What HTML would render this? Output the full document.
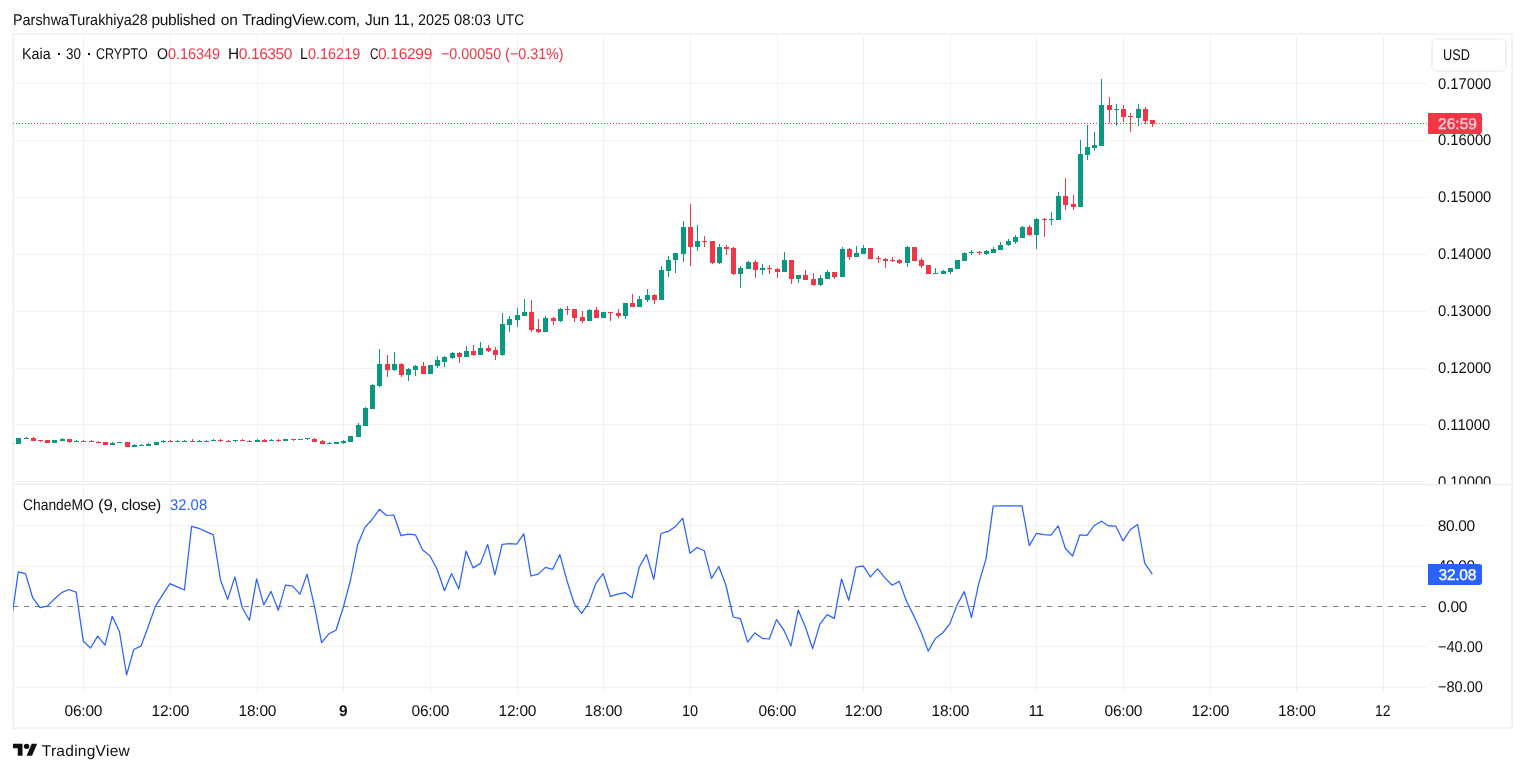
<!DOCTYPE html>
<html><head><meta charset="utf-8"><title>Kaia chart</title>
<style>
html,body{margin:0;padding:0;background:#fff;}
body{width:1525px;height:772px;position:relative;overflow:hidden;font-family:"Liberation Sans",sans-serif;}
.t{position:absolute;white-space:pre;font-family:"Liberation Sans",sans-serif;text-rendering:geometricPrecision;}
#tx{position:absolute;left:0;top:0;width:1525px;height:772px;opacity:.999;will-change:opacity;}
#frame{position:absolute;left:12px;top:33px;width:1497px;height:692px;border:2px solid #f3f3f3;box-sizing:content-box;}
svg{position:absolute;left:0;top:0;}
.usd{position:absolute;left:1431.4px;top:38px;width:75.8px;height:33.8px;border:2px solid #f3f3f3;border-radius:6px;box-sizing:border-box;background:#fff;}
.lab{position:absolute;border-radius:0 2.4px 2.4px 0;}
</style></head><body>
<div id="frame"></div>
<svg width="1525" height="772" viewBox="0 0 1525 772" shape-rendering="crispEdges">
<defs><clipPath id="cp"><rect x="13" y="485" width="1414" height="203"/></clipPath></defs>
<rect x="83" y="35" width="1" height="449" fill="#000" fill-opacity=".052"/>
<rect x="83" y="485" width="1" height="208" fill="#000" fill-opacity=".052"/>
<rect x="170" y="35" width="1" height="449" fill="#000" fill-opacity=".052"/>
<rect x="170" y="485" width="1" height="208" fill="#000" fill-opacity=".052"/>
<rect x="257" y="35" width="1" height="449" fill="#000" fill-opacity=".052"/>
<rect x="257" y="485" width="1" height="208" fill="#000" fill-opacity=".052"/>
<rect x="343" y="35" width="1" height="449" fill="#000" fill-opacity=".052"/>
<rect x="343" y="485" width="1" height="208" fill="#000" fill-opacity=".052"/>
<rect x="430" y="35" width="1" height="449" fill="#000" fill-opacity=".052"/>
<rect x="430" y="485" width="1" height="208" fill="#000" fill-opacity=".052"/>
<rect x="517" y="35" width="1" height="449" fill="#000" fill-opacity=".052"/>
<rect x="517" y="485" width="1" height="208" fill="#000" fill-opacity=".052"/>
<rect x="603" y="35" width="1" height="449" fill="#000" fill-opacity=".052"/>
<rect x="603" y="485" width="1" height="208" fill="#000" fill-opacity=".052"/>
<rect x="690" y="35" width="1" height="449" fill="#000" fill-opacity=".052"/>
<rect x="690" y="485" width="1" height="208" fill="#000" fill-opacity=".052"/>
<rect x="777" y="35" width="1" height="449" fill="#000" fill-opacity=".052"/>
<rect x="777" y="485" width="1" height="208" fill="#000" fill-opacity=".052"/>
<rect x="863" y="35" width="1" height="449" fill="#000" fill-opacity=".052"/>
<rect x="863" y="485" width="1" height="208" fill="#000" fill-opacity=".052"/>
<rect x="950" y="35" width="1" height="449" fill="#000" fill-opacity=".052"/>
<rect x="950" y="485" width="1" height="208" fill="#000" fill-opacity=".052"/>
<rect x="1036" y="35" width="1" height="449" fill="#000" fill-opacity=".052"/>
<rect x="1036" y="485" width="1" height="208" fill="#000" fill-opacity=".052"/>
<rect x="1123" y="35" width="1" height="449" fill="#000" fill-opacity=".052"/>
<rect x="1123" y="485" width="1" height="208" fill="#000" fill-opacity=".052"/>
<rect x="1210" y="35" width="1" height="449" fill="#000" fill-opacity=".052"/>
<rect x="1210" y="485" width="1" height="208" fill="#000" fill-opacity=".052"/>
<rect x="1296" y="35" width="1" height="449" fill="#000" fill-opacity=".052"/>
<rect x="1296" y="485" width="1" height="208" fill="#000" fill-opacity=".052"/>
<rect x="1383" y="35" width="1" height="449" fill="#000" fill-opacity=".052"/>
<rect x="1383" y="485" width="1" height="208" fill="#000" fill-opacity=".052"/>
<rect x="14" y="83" width="1413" height="1" fill="#000" fill-opacity=".052"/>
<rect x="14" y="140" width="1413" height="1" fill="#000" fill-opacity=".052"/>
<rect x="14" y="197" width="1413" height="1" fill="#000" fill-opacity=".052"/>
<rect x="14" y="254" width="1413" height="1" fill="#000" fill-opacity=".052"/>
<rect x="14" y="311" width="1413" height="1" fill="#000" fill-opacity=".052"/>
<rect x="14" y="368" width="1413" height="1" fill="#000" fill-opacity=".052"/>
<rect x="14" y="424" width="1413" height="1" fill="#000" fill-opacity=".052"/>
<rect x="14" y="481" width="1413" height="1" fill="#000" fill-opacity=".052"/>
<rect x="14" y="525" width="1413" height="1" fill="#000" fill-opacity=".052"/>
<rect x="14" y="566" width="1413" height="1" fill="#000" fill-opacity=".052"/>
<rect x="14" y="606" width="1413" height="1" fill="#000" fill-opacity=".052"/>
<rect x="14" y="646" width="1413" height="1" fill="#000" fill-opacity=".052"/>
<rect x="14" y="687" width="1413" height="1" fill="#000" fill-opacity=".052"/>
<rect x="14" y="484" width="1497" height="1" fill="#e9e9e9"/>
<line x1="13" y1="606.5" x2="1427" y2="606.5" stroke="#787b86" stroke-width="1" stroke-dasharray="5 6" stroke-dashoffset="0" shape-rendering="crispEdges"/>
<line x1="13" y1="123.5" x2="1427" y2="123.5" stroke="#f23645" stroke-width="1" stroke-dasharray="1 2" stroke-dashoffset="0" shape-rendering="crispEdges"/>
<rect x="16" y="438" width="5" height="6" fill="#089981"/>
<rect x="26" y="437" width="1" height="2" fill="#089981"/>
<rect x="24" y="438" width="5" height="1" fill="#089981"/>
<rect x="33" y="437" width="1" height="4" fill="#f23645"/>
<rect x="31" y="438" width="5" height="3" fill="#f23645"/>
<rect x="40" y="440" width="1" height="2" fill="#f23645"/>
<rect x="38" y="440" width="5" height="1" fill="#f23645"/>
<rect x="45" y="440" width="5" height="3" fill="#f23645"/>
<rect x="52" y="440" width="5" height="3" fill="#089981"/>
<rect x="62" y="438" width="1" height="3" fill="#089981"/>
<rect x="60" y="439" width="5" height="2" fill="#089981"/>
<rect x="69" y="439" width="1" height="4" fill="#f23645"/>
<rect x="67" y="439" width="5" height="3" fill="#f23645"/>
<rect x="76" y="440" width="1" height="2" fill="#089981"/>
<rect x="74" y="441" width="5" height="1" fill="#089981"/>
<rect x="83" y="440" width="1" height="2" fill="#f23645"/>
<rect x="81" y="441" width="5" height="1" fill="#f23645"/>
<rect x="91" y="440" width="1" height="2" fill="#f23645"/>
<rect x="89" y="441" width="5" height="1" fill="#f23645"/>
<rect x="98" y="441" width="1" height="2" fill="#f23645"/>
<rect x="96" y="442" width="5" height="1" fill="#f23645"/>
<rect x="103" y="442" width="5" height="3" fill="#f23645"/>
<rect x="112" y="442" width="1" height="3" fill="#089981"/>
<rect x="110" y="443" width="5" height="2" fill="#089981"/>
<rect x="117" y="442" width="5" height="1" fill="#089981"/>
<rect x="125" y="442" width="5" height="5" fill="#f23645"/>
<rect x="134" y="444" width="1" height="3" fill="#089981"/>
<rect x="132" y="445" width="5" height="2" fill="#089981"/>
<rect x="141" y="444" width="1" height="2" fill="#089981"/>
<rect x="139" y="445" width="5" height="1" fill="#089981"/>
<rect x="148" y="443" width="1" height="3" fill="#089981"/>
<rect x="146" y="444" width="5" height="2" fill="#089981"/>
<rect x="154" y="442" width="5" height="3" fill="#089981"/>
<rect x="163" y="440" width="1" height="3" fill="#089981"/>
<rect x="161" y="441" width="5" height="1" fill="#089981"/>
<rect x="170" y="440" width="1" height="2" fill="#f23645"/>
<rect x="168" y="441" width="5" height="1" fill="#f23645"/>
<rect x="177" y="440" width="1" height="2" fill="#089981"/>
<rect x="175" y="441" width="5" height="1" fill="#089981"/>
<rect x="184" y="440" width="1" height="2" fill="#089981"/>
<rect x="182" y="441" width="5" height="1" fill="#089981"/>
<rect x="192" y="439" width="1" height="3" fill="#f23645"/>
<rect x="190" y="441" width="5" height="1" fill="#f23645"/>
<rect x="199" y="440" width="1" height="2" fill="#089981"/>
<rect x="197" y="441" width="5" height="1" fill="#089981"/>
<rect x="206" y="440" width="1" height="2" fill="#089981"/>
<rect x="204" y="441" width="5" height="1" fill="#089981"/>
<rect x="213" y="439" width="1" height="2" fill="#089981"/>
<rect x="211" y="440" width="5" height="1" fill="#089981"/>
<rect x="220" y="439" width="1" height="3" fill="#f23645"/>
<rect x="218" y="440" width="5" height="1" fill="#f23645"/>
<rect x="228" y="440" width="1" height="2" fill="#f23645"/>
<rect x="226" y="441" width="5" height="1" fill="#f23645"/>
<rect x="235" y="440" width="1" height="2" fill="#089981"/>
<rect x="233" y="440" width="5" height="1" fill="#089981"/>
<rect x="242" y="439" width="1" height="2" fill="#f23645"/>
<rect x="240" y="440" width="5" height="1" fill="#f23645"/>
<rect x="249" y="440" width="1" height="2" fill="#f23645"/>
<rect x="247" y="441" width="5" height="1" fill="#f23645"/>
<rect x="257" y="439" width="1" height="3" fill="#089981"/>
<rect x="255" y="440" width="5" height="2" fill="#089981"/>
<rect x="264" y="439" width="1" height="3" fill="#f23645"/>
<rect x="262" y="440" width="5" height="2" fill="#f23645"/>
<rect x="271" y="439" width="1" height="2" fill="#089981"/>
<rect x="269" y="440" width="5" height="1" fill="#089981"/>
<rect x="278" y="439" width="1" height="3" fill="#f23645"/>
<rect x="276" y="440" width="5" height="1" fill="#f23645"/>
<rect x="283" y="439" width="5" height="2" fill="#089981"/>
<rect x="293" y="439" width="1" height="2" fill="#f23645"/>
<rect x="291" y="439" width="5" height="1" fill="#f23645"/>
<rect x="298" y="439" width="5" height="1" fill="#089981"/>
<rect x="307" y="438" width="1" height="2" fill="#089981"/>
<rect x="305" y="438" width="5" height="1" fill="#089981"/>
<rect x="314" y="438" width="1" height="4" fill="#f23645"/>
<rect x="312" y="439" width="5" height="3" fill="#f23645"/>
<rect x="322" y="440" width="1" height="4" fill="#f23645"/>
<rect x="320" y="441" width="5" height="3" fill="#f23645"/>
<rect x="329" y="442" width="1" height="2" fill="#089981"/>
<rect x="327" y="443" width="5" height="1" fill="#089981"/>
<rect x="334" y="442" width="5" height="2" fill="#089981"/>
<rect x="343" y="440" width="1" height="4" fill="#089981"/>
<rect x="341" y="441" width="5" height="2" fill="#089981"/>
<rect x="348" y="436" width="5" height="6" fill="#089981"/>
<rect x="358" y="423" width="1" height="14" fill="#089981"/>
<rect x="356" y="425" width="5" height="12" fill="#089981"/>
<rect x="365" y="407" width="1" height="19" fill="#089981"/>
<rect x="363" y="408" width="5" height="18" fill="#089981"/>
<rect x="372" y="384" width="1" height="25" fill="#089981"/>
<rect x="370" y="385" width="5" height="24" fill="#089981"/>
<rect x="379" y="349" width="1" height="38" fill="#089981"/>
<rect x="377" y="364" width="5" height="22" fill="#089981"/>
<rect x="387" y="355" width="1" height="22" fill="#f23645"/>
<rect x="385" y="364" width="5" height="6" fill="#f23645"/>
<rect x="394" y="352" width="1" height="19" fill="#089981"/>
<rect x="392" y="364" width="5" height="6" fill="#089981"/>
<rect x="401" y="363" width="1" height="14" fill="#f23645"/>
<rect x="399" y="364" width="5" height="11" fill="#f23645"/>
<rect x="408" y="368" width="1" height="13" fill="#089981"/>
<rect x="406" y="369" width="5" height="6" fill="#089981"/>
<rect x="415" y="365" width="1" height="11" fill="#089981"/>
<rect x="413" y="366" width="5" height="4" fill="#089981"/>
<rect x="423" y="362" width="1" height="12" fill="#f23645"/>
<rect x="421" y="366" width="5" height="8" fill="#f23645"/>
<rect x="428" y="365" width="5" height="9" fill="#089981"/>
<rect x="437" y="356" width="1" height="12" fill="#089981"/>
<rect x="435" y="360" width="5" height="6" fill="#089981"/>
<rect x="444" y="356" width="1" height="11" fill="#089981"/>
<rect x="442" y="357" width="5" height="5" fill="#089981"/>
<rect x="452" y="352" width="1" height="7" fill="#089981"/>
<rect x="450" y="353" width="5" height="5" fill="#089981"/>
<rect x="459" y="352" width="1" height="11" fill="#f23645"/>
<rect x="457" y="353" width="5" height="4" fill="#f23645"/>
<rect x="466" y="346" width="1" height="11" fill="#089981"/>
<rect x="464" y="351" width="5" height="6" fill="#089981"/>
<rect x="473" y="345" width="1" height="11" fill="#f23645"/>
<rect x="471" y="351" width="5" height="4" fill="#f23645"/>
<rect x="480" y="342" width="1" height="13" fill="#089981"/>
<rect x="478" y="348" width="5" height="7" fill="#089981"/>
<rect x="488" y="345" width="1" height="7" fill="#f23645"/>
<rect x="486" y="348" width="5" height="3" fill="#f23645"/>
<rect x="495" y="347" width="1" height="13" fill="#f23645"/>
<rect x="493" y="350" width="5" height="5" fill="#f23645"/>
<rect x="502" y="313" width="1" height="43" fill="#089981"/>
<rect x="500" y="324" width="5" height="31" fill="#089981"/>
<rect x="509" y="316" width="1" height="16" fill="#089981"/>
<rect x="507" y="319" width="5" height="6" fill="#089981"/>
<rect x="517" y="308" width="1" height="19" fill="#089981"/>
<rect x="515" y="315" width="5" height="5" fill="#089981"/>
<rect x="524" y="299" width="1" height="17" fill="#089981"/>
<rect x="522" y="312" width="5" height="4" fill="#089981"/>
<rect x="531" y="300" width="1" height="32" fill="#f23645"/>
<rect x="529" y="312" width="5" height="18" fill="#f23645"/>
<rect x="538" y="319" width="1" height="14" fill="#f23645"/>
<rect x="536" y="329" width="5" height="3" fill="#f23645"/>
<rect x="545" y="316" width="1" height="16" fill="#089981"/>
<rect x="543" y="318" width="5" height="14" fill="#089981"/>
<rect x="553" y="317" width="1" height="8" fill="#f23645"/>
<rect x="551" y="318" width="5" height="3" fill="#f23645"/>
<rect x="560" y="308" width="1" height="14" fill="#089981"/>
<rect x="558" y="309" width="5" height="12" fill="#089981"/>
<rect x="567" y="306" width="1" height="9" fill="#f23645"/>
<rect x="565" y="309" width="5" height="1" fill="#f23645"/>
<rect x="574" y="309" width="1" height="13" fill="#f23645"/>
<rect x="572" y="309" width="5" height="9" fill="#f23645"/>
<rect x="582" y="311" width="1" height="12" fill="#f23645"/>
<rect x="580" y="317" width="5" height="4" fill="#f23645"/>
<rect x="589" y="309" width="1" height="12" fill="#089981"/>
<rect x="587" y="310" width="5" height="11" fill="#089981"/>
<rect x="596" y="307" width="1" height="11" fill="#f23645"/>
<rect x="594" y="310" width="5" height="8" fill="#f23645"/>
<rect x="601" y="312" width="5" height="6" fill="#089981"/>
<rect x="610" y="312" width="1" height="9" fill="#f23645"/>
<rect x="608" y="312" width="5" height="1" fill="#f23645"/>
<rect x="618" y="309" width="1" height="9" fill="#f23645"/>
<rect x="616" y="313" width="5" height="3" fill="#f23645"/>
<rect x="625" y="303" width="1" height="16" fill="#089981"/>
<rect x="623" y="303" width="5" height="13" fill="#089981"/>
<rect x="632" y="294" width="1" height="13" fill="#f23645"/>
<rect x="630" y="303" width="5" height="4" fill="#f23645"/>
<rect x="639" y="296" width="1" height="11" fill="#089981"/>
<rect x="637" y="299" width="5" height="8" fill="#089981"/>
<rect x="647" y="289" width="1" height="13" fill="#089981"/>
<rect x="645" y="295" width="5" height="5" fill="#089981"/>
<rect x="654" y="294" width="1" height="10" fill="#f23645"/>
<rect x="652" y="295" width="5" height="5" fill="#f23645"/>
<rect x="661" y="266" width="1" height="34" fill="#089981"/>
<rect x="659" y="270" width="5" height="30" fill="#089981"/>
<rect x="668" y="256" width="1" height="21" fill="#089981"/>
<rect x="666" y="260" width="5" height="11" fill="#089981"/>
<rect x="675" y="253" width="1" height="20" fill="#089981"/>
<rect x="673" y="253" width="5" height="7" fill="#089981"/>
<rect x="683" y="221" width="1" height="41" fill="#089981"/>
<rect x="681" y="227" width="5" height="27" fill="#089981"/>
<rect x="690" y="204" width="1" height="62" fill="#f23645"/>
<rect x="688" y="227" width="5" height="20" fill="#f23645"/>
<rect x="697" y="225" width="1" height="26" fill="#089981"/>
<rect x="695" y="241" width="5" height="6" fill="#089981"/>
<rect x="704" y="236" width="1" height="11" fill="#f23645"/>
<rect x="702" y="241" width="5" height="1" fill="#f23645"/>
<rect x="712" y="241" width="1" height="23" fill="#f23645"/>
<rect x="710" y="241" width="5" height="22" fill="#f23645"/>
<rect x="719" y="244" width="1" height="20" fill="#089981"/>
<rect x="717" y="247" width="5" height="16" fill="#089981"/>
<rect x="726" y="245" width="1" height="10" fill="#f23645"/>
<rect x="724" y="247" width="5" height="2" fill="#f23645"/>
<rect x="733" y="247" width="1" height="28" fill="#f23645"/>
<rect x="731" y="248" width="5" height="26" fill="#f23645"/>
<rect x="740" y="266" width="1" height="22" fill="#089981"/>
<rect x="738" y="268" width="5" height="6" fill="#089981"/>
<rect x="748" y="261" width="1" height="8" fill="#089981"/>
<rect x="746" y="262" width="5" height="7" fill="#089981"/>
<rect x="755" y="260" width="1" height="18" fill="#f23645"/>
<rect x="753" y="262" width="5" height="8" fill="#f23645"/>
<rect x="762" y="264" width="1" height="11" fill="#089981"/>
<rect x="760" y="268" width="5" height="2" fill="#089981"/>
<rect x="769" y="265" width="1" height="9" fill="#f23645"/>
<rect x="767" y="268" width="5" height="1" fill="#f23645"/>
<rect x="777" y="268" width="1" height="10" fill="#f23645"/>
<rect x="775" y="269" width="5" height="3" fill="#f23645"/>
<rect x="784" y="252" width="1" height="20" fill="#089981"/>
<rect x="782" y="260" width="5" height="12" fill="#089981"/>
<rect x="791" y="260" width="1" height="24" fill="#f23645"/>
<rect x="789" y="260" width="5" height="19" fill="#f23645"/>
<rect x="798" y="275" width="1" height="8" fill="#089981"/>
<rect x="796" y="275" width="5" height="4" fill="#089981"/>
<rect x="805" y="270" width="1" height="10" fill="#f23645"/>
<rect x="803" y="275" width="5" height="5" fill="#f23645"/>
<rect x="813" y="273" width="1" height="13" fill="#f23645"/>
<rect x="811" y="279" width="5" height="6" fill="#f23645"/>
<rect x="820" y="275" width="1" height="11" fill="#089981"/>
<rect x="818" y="278" width="5" height="7" fill="#089981"/>
<rect x="827" y="270" width="1" height="9" fill="#089981"/>
<rect x="825" y="272" width="5" height="7" fill="#089981"/>
<rect x="834" y="272" width="1" height="7" fill="#f23645"/>
<rect x="832" y="272" width="5" height="5" fill="#f23645"/>
<rect x="842" y="247" width="1" height="30" fill="#089981"/>
<rect x="840" y="249" width="5" height="28" fill="#089981"/>
<rect x="849" y="248" width="1" height="12" fill="#f23645"/>
<rect x="847" y="249" width="5" height="8" fill="#f23645"/>
<rect x="856" y="246" width="1" height="11" fill="#089981"/>
<rect x="854" y="253" width="5" height="4" fill="#089981"/>
<rect x="863" y="245" width="1" height="9" fill="#089981"/>
<rect x="861" y="248" width="5" height="6" fill="#089981"/>
<rect x="868" y="248" width="5" height="11" fill="#f23645"/>
<rect x="878" y="256" width="1" height="7" fill="#f23645"/>
<rect x="876" y="258" width="5" height="1" fill="#f23645"/>
<rect x="885" y="258" width="1" height="10" fill="#f23645"/>
<rect x="883" y="259" width="5" height="2" fill="#f23645"/>
<rect x="892" y="257" width="1" height="5" fill="#f23645"/>
<rect x="890" y="260" width="5" height="1" fill="#f23645"/>
<rect x="899" y="259" width="1" height="5" fill="#f23645"/>
<rect x="897" y="260" width="5" height="3" fill="#f23645"/>
<rect x="907" y="246" width="1" height="21" fill="#089981"/>
<rect x="905" y="247" width="5" height="16" fill="#089981"/>
<rect x="912" y="247" width="5" height="14" fill="#f23645"/>
<rect x="921" y="258" width="1" height="10" fill="#f23645"/>
<rect x="919" y="260" width="5" height="6" fill="#f23645"/>
<rect x="926" y="265" width="5" height="9" fill="#f23645"/>
<rect x="935" y="268" width="1" height="6" fill="#089981"/>
<rect x="933" y="273" width="5" height="1" fill="#089981"/>
<rect x="943" y="270" width="1" height="4" fill="#089981"/>
<rect x="941" y="271" width="5" height="3" fill="#089981"/>
<rect x="950" y="268" width="1" height="6" fill="#089981"/>
<rect x="948" y="268" width="5" height="4" fill="#089981"/>
<rect x="955" y="260" width="5" height="9" fill="#089981"/>
<rect x="964" y="252" width="1" height="9" fill="#089981"/>
<rect x="962" y="253" width="5" height="8" fill="#089981"/>
<rect x="971" y="250" width="1" height="5" fill="#089981"/>
<rect x="969" y="252" width="5" height="1" fill="#089981"/>
<rect x="979" y="251" width="1" height="4" fill="#f23645"/>
<rect x="977" y="252" width="5" height="1" fill="#f23645"/>
<rect x="986" y="250" width="1" height="5" fill="#089981"/>
<rect x="984" y="251" width="5" height="3" fill="#089981"/>
<rect x="993" y="247" width="1" height="6" fill="#089981"/>
<rect x="991" y="249" width="5" height="4" fill="#089981"/>
<rect x="1000" y="242" width="1" height="8" fill="#089981"/>
<rect x="998" y="245" width="5" height="5" fill="#089981"/>
<rect x="1008" y="239" width="1" height="7" fill="#089981"/>
<rect x="1006" y="241" width="5" height="4" fill="#089981"/>
<rect x="1015" y="235" width="1" height="9" fill="#089981"/>
<rect x="1013" y="237" width="5" height="5" fill="#089981"/>
<rect x="1022" y="226" width="1" height="12" fill="#089981"/>
<rect x="1020" y="227" width="5" height="11" fill="#089981"/>
<rect x="1029" y="225" width="1" height="11" fill="#f23645"/>
<rect x="1027" y="227" width="5" height="8" fill="#f23645"/>
<rect x="1036" y="218" width="1" height="31" fill="#089981"/>
<rect x="1034" y="219" width="5" height="16" fill="#089981"/>
<rect x="1044" y="218" width="1" height="19" fill="#f23645"/>
<rect x="1042" y="219" width="5" height="1" fill="#f23645"/>
<rect x="1051" y="212" width="1" height="13" fill="#089981"/>
<rect x="1049" y="219" width="5" height="1" fill="#089981"/>
<rect x="1058" y="192" width="1" height="28" fill="#089981"/>
<rect x="1056" y="196" width="5" height="24" fill="#089981"/>
<rect x="1065" y="178" width="1" height="32" fill="#f23645"/>
<rect x="1063" y="196" width="5" height="9" fill="#f23645"/>
<rect x="1073" y="195" width="1" height="15" fill="#f23645"/>
<rect x="1071" y="204" width="5" height="3" fill="#f23645"/>
<rect x="1080" y="140" width="1" height="67" fill="#089981"/>
<rect x="1078" y="154" width="5" height="53" fill="#089981"/>
<rect x="1087" y="125" width="1" height="35" fill="#089981"/>
<rect x="1085" y="147" width="5" height="8" fill="#089981"/>
<rect x="1094" y="132" width="1" height="19" fill="#089981"/>
<rect x="1092" y="145" width="5" height="3" fill="#089981"/>
<rect x="1101" y="79" width="1" height="67" fill="#089981"/>
<rect x="1099" y="105" width="5" height="41" fill="#089981"/>
<rect x="1109" y="97" width="1" height="26" fill="#f23645"/>
<rect x="1107" y="105" width="5" height="5" fill="#f23645"/>
<rect x="1116" y="104" width="1" height="22" fill="#089981"/>
<rect x="1114" y="109" width="5" height="1" fill="#089981"/>
<rect x="1123" y="105" width="1" height="17" fill="#f23645"/>
<rect x="1121" y="109" width="5" height="8" fill="#f23645"/>
<rect x="1130" y="113" width="1" height="19" fill="#f23645"/>
<rect x="1128" y="116" width="5" height="1" fill="#f23645"/>
<rect x="1138" y="104" width="1" height="22" fill="#089981"/>
<rect x="1136" y="109" width="5" height="9" fill="#089981"/>
<rect x="1145" y="107" width="1" height="17" fill="#f23645"/>
<rect x="1143" y="109" width="5" height="12" fill="#f23645"/>
<rect x="1152" y="120" width="1" height="7" fill="#f23645"/>
<rect x="1150" y="120" width="5" height="4" fill="#f23645"/>
<rect x="13.15" y="443" width="1" height="1.1" fill="#089981" fill-opacity=".75" shape-rendering="geometricPrecision"/>
<path d="M11.1 622.0 L18.3 571.9 L25.5 573.6 L32.7 597.8 L40.0 607.7 L47.2 606.1 L54.4 599.0 L61.6 592.6 L68.8 589.5 L76.1 592.1 L83.3 641.2 L90.5 648.0 L97.7 636.2 L105.0 645.2 L112.2 616.3 L119.4 631.5 L126.6 674.9 L133.8 649.5 L141.1 645.9 L148.3 626.2 L155.5 606.1 L162.7 594.7 L169.9 583.6 L177.2 586.9 L184.4 590.0 L191.6 526.4 L198.8 528.3 L206.1 531.6 L213.3 534.9 L220.5 580.0 L227.7 599.4 L234.9 576.9 L242.2 607.5 L249.4 620.3 L256.6 578.8 L263.8 604.9 L271.0 591.4 L278.3 610.4 L285.5 585.2 L292.7 586.2 L299.9 594.2 L307.1 574.1 L314.4 606.1 L321.6 642.6 L328.8 633.8 L336.0 630.3 L343.3 607.3 L350.5 580.0 L357.7 544.4 L364.9 527.4 L372.1 519.5 L379.4 509.3 L386.6 515.5 L393.8 515.0 L401.0 535.7 L408.2 534.2 L415.5 534.9 L422.7 550.1 L429.9 555.8 L437.1 569.3 L444.4 590.7 L451.6 573.6 L458.8 589.0 L466.0 551.1 L473.2 567.9 L480.5 563.4 L487.7 544.4 L494.9 574.8 L502.1 544.4 L509.3 543.7 L516.6 544.2 L523.8 533.8 L531.0 576.0 L538.2 574.1 L545.4 567.4 L552.7 569.3 L559.9 554.6 L567.1 581.2 L574.3 603.7 L581.6 613.4 L588.8 603.0 L596.0 583.1 L603.2 573.6 L610.4 596.4 L617.7 594.2 L624.9 592.6 L632.1 597.8 L639.3 567.0 L646.5 554.4 L653.8 579.5 L661.0 533.5 L668.2 531.4 L675.4 526.6 L682.7 518.1 L689.9 553.2 L697.1 547.5 L704.3 550.8 L711.5 578.3 L718.8 566.5 L726.0 585.5 L733.2 617.0 L740.4 618.7 L747.6 642.1 L754.9 632.9 L762.1 638.3 L769.3 639.0 L776.5 619.6 L783.7 629.8 L791.0 645.9 L798.2 610.1 L805.4 627.0 L812.6 648.5 L819.9 624.1 L827.1 614.6 L834.3 618.4 L841.5 578.8 L848.7 600.4 L856.0 567.2 L863.2 565.8 L870.4 576.9 L877.6 568.9 L884.8 577.6 L892.1 585.2 L899.3 581.4 L906.5 601.3 L913.7 615.6 L920.9 631.5 L928.2 651.1 L935.4 638.5 L942.6 633.0 L949.8 623.9 L957.1 604.9 L964.3 591.6 L971.5 617.7 L978.7 583.6 L985.9 559.4 L993.2 506.0 L1000.4 505.8 L1007.6 505.8 L1014.8 505.8 L1022.0 505.8 L1029.3 545.6 L1036.5 533.3 L1043.7 534.7 L1050.9 535.2 L1058.2 525.9 L1065.4 548.5 L1072.6 556.0 L1079.8 534.9 L1087.0 535.4 L1094.3 525.5 L1101.5 521.2 L1108.7 525.9 L1115.9 526.2 L1123.1 540.9 L1130.4 529.5 L1137.6 524.5 L1144.8 563.4 L1152.0 573.6" fill="none" stroke="#2962ff" stroke-width="1.25" stroke-linejoin="round" stroke-linecap="round" shape-rendering="geometricPrecision" clip-path="url(#cp)"/>
</svg>
<div class="usd"></div>
<div id="tx">
<span class="t" style="left:13.20px;top:12.88px;font-size:15.5px;line-height:15.5px;color:#0f0f0f;transform:scaleX(0.9294);transform-origin:0 0;">ParshwaTurakhiya28</span>
<span class="t" style="left:151.38px;top:12.88px;font-size:15.5px;line-height:15.5px;color:#0f0f0f;letter-spacing:-0.272px;">published</span>
<span class="t" style="left:220.87px;top:12.88px;font-size:15.5px;line-height:15.5px;color:#0f0f0f;letter-spacing:-0.290px;">on</span>
<span class="t" style="left:242.18px;top:12.88px;font-size:15.5px;line-height:15.5px;color:#0f0f0f;letter-spacing:-0.292px;">TradingView.com,</span>
<span class="t" style="left:365.12px;top:12.88px;font-size:15.5px;line-height:15.5px;color:#0f0f0f;letter-spacing:-0.410px;">Jun</span>
<span class="t" style="left:393.80px;top:12.88px;font-size:15.5px;line-height:15.5px;color:#0f0f0f;letter-spacing:0.050px;">11,</span>
<span class="t" style="left:417.73px;top:12.88px;font-size:15.5px;line-height:15.5px;color:#0f0f0f;transform:scaleX(0.9263);transform-origin:0 0;">2025</span>
<span class="t" style="left:454.40px;top:12.88px;font-size:15.5px;line-height:15.5px;color:#0f0f0f;transform:scaleX(0.9567);transform-origin:0 0;">08:03</span>
<span class="t" style="left:495.57px;top:12.88px;font-size:15.5px;line-height:15.5px;color:#0f0f0f;transform:scaleX(0.8803);transform-origin:0 0;">UTC</span>
<span class="t" style="left:22.41px;top:46.88px;font-size:15.5px;line-height:15.5px;color:#0f0f0f;transform:scaleX(0.9209);transform-origin:0 0;">Kaia</span>
<span class="t" style="left:66.41px;top:46.88px;font-size:15.5px;line-height:15.5px;color:#0f0f0f;transform:scaleX(0.8666);transform-origin:0 0;">30</span>
<span class="t" style="left:96.02px;top:46.88px;font-size:15.5px;line-height:15.5px;color:#0f0f0f;transform:scaleX(0.8059);transform-origin:0 0;">CRYPTO</span>
<span class="t" style="left:157.07px;top:46.88px;font-size:15.5px;line-height:15.5px;color:#0f0f0f;transform:scaleX(0.9138);transform-origin:0 0;">O</span>
<span class="t" style="left:168.03px;top:46.88px;font-size:15.5px;line-height:15.5px;color:#f23645;transform:scaleX(0.9307);transform-origin:0 0;">0.16349</span>
<span class="t" style="left:228.09px;top:46.88px;font-size:15.5px;line-height:15.5px;color:#0f0f0f;transform:scaleX(0.9955);transform-origin:0 0;">H</span>
<span class="t" style="left:238.80px;top:46.88px;font-size:15.5px;line-height:15.5px;color:#f23645;letter-spacing:-0.401px;">0.16350</span>
<span class="t" style="left:299.91px;top:46.88px;font-size:15.5px;line-height:15.5px;color:#0f0f0f;transform:scaleX(0.9131);transform-origin:0 0;">L</span>
<span class="t" style="left:308.24px;top:46.88px;font-size:15.5px;line-height:15.5px;color:#f23645;transform:scaleX(0.9319);transform-origin:0 0;">0.16219</span>
<span class="t" style="left:370.25px;top:46.88px;font-size:15.5px;line-height:15.5px;color:#0f0f0f;transform:scaleX(0.7496);transform-origin:0 0;">C</span>
<span class="t" style="left:377.95px;top:46.88px;font-size:15.5px;line-height:15.5px;color:#f23645;letter-spacing:-0.283px;">0.16299</span>
<span class="t" style="left:440.64px;top:46.88px;font-size:15.5px;line-height:15.5px;color:#f23645;transform:scaleX(0.9238);transform-origin:0 0;">−0.00050 (−0.31%)</span>
<span class="t" style="left:1442.57px;top:47.88px;font-size:15.5px;line-height:15.5px;color:#0f0f0f;transform:scaleX(0.8209);transform-origin:0 0;">USD</span>
<span class="t" style="left:22.82px;top:497.88px;font-size:15.5px;line-height:15.5px;color:#0f0f0f;transform:scaleX(0.8930);transform-origin:0 0;">ChandeMO</span>
<span class="t" style="left:97.80px;top:497.88px;font-size:15.5px;line-height:15.5px;color:#0f0f0f;transform:scaleX(1.0819);transform-origin:0 0;">(9,</span>
<span class="t" style="left:121.32px;top:497.88px;font-size:15.5px;line-height:15.5px;color:#0f0f0f;letter-spacing:-0.289px;">close)</span>
<span class="t" style="left:170.11px;top:497.88px;font-size:15.5px;line-height:15.5px;color:#2962ff;transform:scaleX(0.9572);transform-origin:0 0;">32.08</span>
<span class="t" style="left:41.78px;top:743.78px;font-size:15.5px;line-height:15.5px;color:#0f0f0f;letter-spacing:0.268px;">TradingView</span>
<span class="t" style="left:1437.57px;top:76.98px;font-size:15.5px;line-height:15.5px;color:#0f0f0f;transform:scaleX(0.9507);transform-origin:0 0;">0.17000</span>
<span class="t" style="left:1437.57px;top:132.98px;font-size:15.5px;line-height:15.5px;color:#0f0f0f;transform:scaleX(0.9507);transform-origin:0 0;">0.16000</span>
<span class="t" style="left:1437.57px;top:189.98px;font-size:15.5px;line-height:15.5px;color:#0f0f0f;transform:scaleX(0.9507);transform-origin:0 0;">0.15000</span>
<span class="t" style="left:1437.57px;top:246.98px;font-size:15.5px;line-height:15.5px;color:#0f0f0f;transform:scaleX(0.9507);transform-origin:0 0;">0.14000</span>
<span class="t" style="left:1437.57px;top:303.98px;font-size:15.5px;line-height:15.5px;color:#0f0f0f;transform:scaleX(0.9507);transform-origin:0 0;">0.13000</span>
<span class="t" style="left:1437.57px;top:360.98px;font-size:15.5px;line-height:15.5px;color:#0f0f0f;transform:scaleX(0.9507);transform-origin:0 0;">0.12000</span>
<span class="t" style="left:1437.57px;top:417.98px;font-size:15.5px;line-height:15.5px;color:#0f0f0f;transform:scaleX(0.9507);transform-origin:0 0;">0.11000</span>
<div style="position:absolute;left:1428px;top:470px;width:80px;height:14px;overflow:hidden"><span class="t" style="left:9.57px;top:4.98px;font-size:15.5px;line-height:15.5px;color:#0f0f0f;transform:scaleX(0.9507);transform-origin:0 0;">0.10000</span></div>
<span class="t" style="left:1437.73px;top:518.78px;font-size:15.5px;line-height:15.5px;color:#0f0f0f;letter-spacing:-0.333px;">80.00</span>
<span class="t" style="left:1437.73px;top:559.08px;font-size:15.5px;line-height:15.5px;color:#0f0f0f;letter-spacing:-0.333px;">40.00</span>
<span class="t" style="left:1437.96px;top:599.78px;font-size:15.5px;line-height:15.5px;color:#0f0f0f;letter-spacing:-0.220px;">0.00</span>
<span class="t" style="left:1438.01px;top:639.78px;font-size:15.5px;line-height:15.5px;color:#0f0f0f;transform:scaleX(0.9393);transform-origin:0 0;">−40.00</span>
<span class="t" style="left:1438.01px;top:679.68px;font-size:15.5px;line-height:15.5px;color:#0f0f0f;transform:scaleX(0.9393);transform-origin:0 0;">−80.00</span>
<span class="t" style="left:64.50px;top:703.68px;font-size:15.5px;line-height:15.5px;color:#0f0f0f;letter-spacing:-0.200px;">06:00</span>
<span class="t" style="left:151.50px;top:703.68px;font-size:15.5px;line-height:15.5px;color:#0f0f0f;letter-spacing:-0.200px;">12:00</span>
<span class="t" style="left:238.50px;top:703.68px;font-size:15.5px;line-height:15.5px;color:#0f0f0f;letter-spacing:-0.200px;">18:00</span>
<span class="t" style="left:339.00px;top:703.68px;font-size:15.5px;line-height:15.5px;color:#0f0f0f;transform:scaleX(0.9948);transform-origin:0 0;font-weight:700;">9</span>
<span class="t" style="left:411.50px;top:703.68px;font-size:15.5px;line-height:15.5px;color:#0f0f0f;letter-spacing:-0.200px;">06:00</span>
<span class="t" style="left:498.50px;top:703.68px;font-size:15.5px;line-height:15.5px;color:#0f0f0f;letter-spacing:-0.200px;">12:00</span>
<span class="t" style="left:584.50px;top:703.68px;font-size:15.5px;line-height:15.5px;color:#0f0f0f;letter-spacing:-0.200px;">18:00</span>
<span class="t" style="left:681.60px;top:703.68px;font-size:15.5px;line-height:15.5px;color:#0f0f0f;transform:scaleX(0.9359);transform-origin:0 0;">10</span>
<span class="t" style="left:758.50px;top:703.68px;font-size:15.5px;line-height:15.5px;color:#0f0f0f;letter-spacing:-0.200px;">06:00</span>
<span class="t" style="left:844.50px;top:703.68px;font-size:15.5px;line-height:15.5px;color:#0f0f0f;letter-spacing:-0.200px;">12:00</span>
<span class="t" style="left:931.50px;top:703.68px;font-size:15.5px;line-height:15.5px;color:#0f0f0f;letter-spacing:-0.200px;">18:00</span>
<span class="t" style="left:1028.49px;top:703.68px;font-size:15.5px;line-height:15.5px;color:#0f0f0f;letter-spacing:-0.345px;">11</span>
<span class="t" style="left:1104.50px;top:703.68px;font-size:15.5px;line-height:15.5px;color:#0f0f0f;letter-spacing:-0.200px;">06:00</span>
<span class="t" style="left:1191.50px;top:703.68px;font-size:15.5px;line-height:15.5px;color:#0f0f0f;letter-spacing:-0.200px;">12:00</span>
<span class="t" style="left:1278.00px;top:703.68px;font-size:15.5px;line-height:15.5px;color:#0f0f0f;letter-spacing:-0.200px;">18:00</span>
<span class="t" style="left:1375.19px;top:703.68px;font-size:15.5px;line-height:15.5px;color:#0f0f0f;transform:scaleX(0.9032);transform-origin:0 0;">12</span>
<div style="position:absolute;left:57.7px;top:52.7px;width:2.2px;height:2.2px;background:#0f0f0f"></div><div style="position:absolute;left:87.9px;top:52.7px;width:2.2px;height:2.2px;background:#0f0f0f"></div>
<div class="lab" style="left:1428px;top:113px;width:54px;height:20.8px;background:#f23645;"></div>
<div class="lab" style="left:1428px;top:564px;width:54px;height:20.9px;background:#2962ff;"></div>
<span class="t" style="left:1438.08px;top:116.88px;font-size:15.5px;line-height:15.5px;color:#fbd0d4;letter-spacing:0.006px;-webkit-text-stroke:0.35px #fbd0d4;">26:59</span>
<span class="t" style="left:1438.54px;top:567.88px;font-size:15.5px;line-height:15.5px;color:#ffffff;letter-spacing:-0.250px;-webkit-text-stroke:0.35px #ffffff;">32.08</span>
<svg style="left:13.1px;top:741.23px" width="24.45" height="18.67" viewBox="0 0 36 28" preserveAspectRatio="none" shape-rendering="geometricPrecision"><path d="M14 22H7V11H0V4h14v18zM28 22h-8l7.5-18h8L28 22z" fill="#0f0f0f"/><circle cx="20" cy="8" r="4" fill="#0f0f0f"/></svg>
</div>
</body></html>
